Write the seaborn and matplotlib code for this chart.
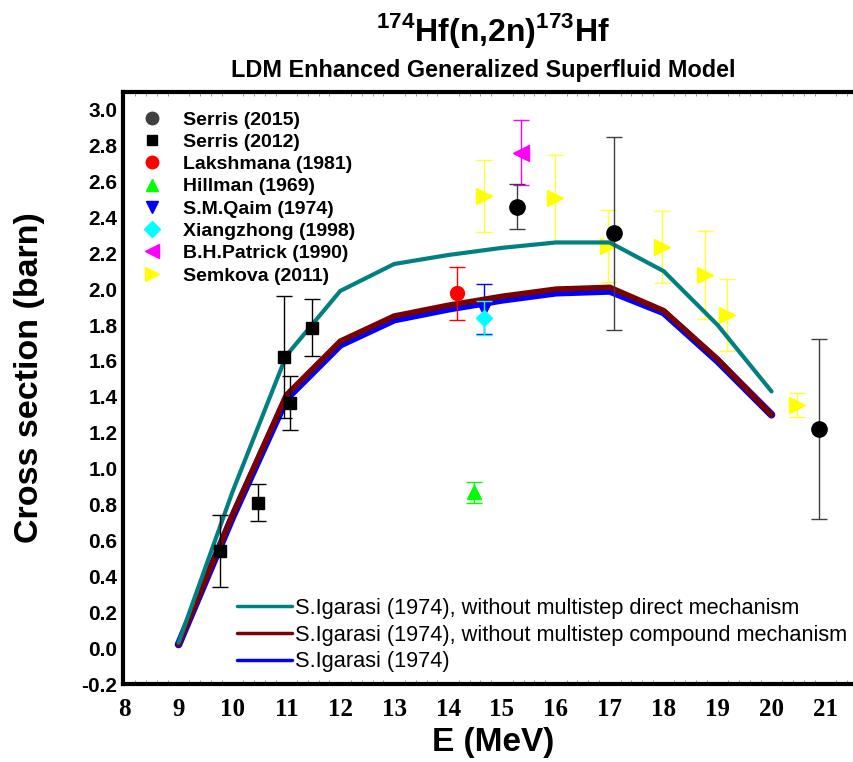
import matplotlib
matplotlib.use("Agg")
import matplotlib.pyplot as plt
from matplotlib.lines import Line2D
from matplotlib.ticker import MultipleLocator
import pandas as pd
import seaborn as sns

# ---- model curves: 174Hf(n,2n)173Hf cross section (barn) ----
model_energy = [9, 10, 11, 12, 13, 14, 15, 16, 17, 18, 19, 20]
sigma_no_msd = [0.03, 0.87, 1.63, 1.99, 2.14, 2.19, 2.23, 2.26, 2.26, 2.10, 1.80, 1.43]
sigma_no_msc = [0.02, 0.74, 1.41, 1.71, 1.85, 1.91, 1.96, 2.00, 2.01, 1.88, 1.61, 1.30]
sigma_full = [0.02, 0.73, 1.39, 1.69, 1.83, 1.89, 1.94, 1.98, 1.99, 1.87, 1.60, 1.30]

# ---- experimental data (E in MeV, sigma and uncertainty in barn) ----
serris2015_e = [15.27, 17.07, 20.88]
serris2015_s = [2.46, 2.31, 1.22]
serris2015_d = [0.127, 0.54, 0.50]

serris2012_e = [9.77, 10.47, 10.96, 11.07, 11.47]
serris2012_s = [0.543, 0.81, 1.624, 1.365, 1.786]
serris2012_d = [0.20, 0.103, 0.34, 0.15, 0.16]

lakshmana_e = [14.17]
lakshmana_s = [1.977]
lakshmana_d = [0.147]

hillman_e = [14.48]
hillman_s = [0.868]
hillman_d = [0.06]

qaim_e = [14.67]
qaim_s = [1.89]
qaim_d = [0.14]

xiangzhong_e = [14.67]
xiangzhong_s = [1.84]
xiangzhong_d = [0.095]

patrick_e = [15.35]
patrick_s = [2.76]
patrick_d = [0.18]

semkova_e = [14.67, 15.98, 16.97, 17.97, 18.77, 19.17, 20.47]
semkova_s = [2.52, 2.505, 2.24, 2.236, 2.077, 1.854, 1.354]
semkova_d = [0.20, 0.245, 0.20, 0.20, 0.245, 0.20, 0.068]

x_ticks = list(range(8, 22))
y_ticks = [round(-0.2 + 0.2 * i, 1) for i in range(17)]

sns.set_theme(style="white")
plt.rcParams["font.family"] = ["Liberation Sans", "DejaVu Sans"]
plt.rcParams["mathtext.fontset"] = "custom"
plt.rcParams["mathtext.rm"] = "Liberation Sans:bold"
plt.rcParams["mathtext.bf"] = "Liberation Sans:bold"
for key in ("text.color", "axes.labelcolor", "xtick.color", "ytick.color"):
    plt.rcParams[key] = "black"

W, H = 854, 762
fig = plt.figure(figsize=(W / 100, H / 100), dpi=100)
ax = fig.add_axes([123 / W, 1 - 684 / H, 1 - 123 / W, (684 - 91.7) / H])

# model curves
curves = pd.DataFrame({
    "E": model_energy * 3,
    "sigma": sigma_full + sigma_no_msc + sigma_no_msd,
    "model": (["S.Igarasi (1974)"] * len(model_energy)
              + ["S.Igarasi (1974), without multistep compound mechanism"] * len(model_energy)
              + ["S.Igarasi (1974), without multistep direct mechanism"] * len(model_energy)),
})
curve_style = {
    "S.Igarasi (1974)": ("#0000ff", 5.5, 3),
    "S.Igarasi (1974), without multistep compound mechanism": ("#7b0000", 4.0, 3.1),
    "S.Igarasi (1974), without multistep direct mechanism": ("#008080", 3.0, 3.2),
}
for name, sub in curves.groupby("model", sort=False):
    col, lw, z = curve_style[name]
    sns.lineplot(data=sub, x="E", y="sigma", ax=ax, color=col, lw=lw,
                 legend=False, zorder=z, solid_joinstyle="miter")


def points(e, s, d, marker, color, ms, ecolor, z=2.5):
    ax.errorbar(e, s, yerr=d, fmt=marker, color=color, ms=ms, mec=color,
                ecolor=ecolor, elinewidth=1.0, capsize=6, capthick=1.0, zorder=z)


points(semkova_e, semkova_s, semkova_d, ">", "#ffff00", 12, "#ffff33", z=2.5)
points(serris2012_e, serris2012_s, serris2012_d, "s", "black", 9, "black", z=3.5)
points(lakshmana_e, lakshmana_s, lakshmana_d, "o", "#ff0000", 10, "#ff0000", z=3.5)
points(hillman_e, hillman_s, hillman_d, "^", "#00ff00", 10, "#00ff00", z=3.5)
points(qaim_e, qaim_s, qaim_d, "v", "#0000ff", 10, "#0000ff", z=2.6)
points(xiangzhong_e, xiangzhong_s, xiangzhong_d, "D", "#00ffff", 8, "#00ffff", z=3.5)
points(patrick_e, patrick_s, patrick_d, "<", "#ff00ff", 12, "#ff00ff", z=3.5)
points(serris2015_e, serris2015_s, serris2015_d, "o", "black", 11, "#404040", z=4)

ax.set_xlim(7.97, 21.53)
ax.set_ylim(-0.2, 3.10)
ax.set_xticks(x_ticks)
ax.set_yticks(y_ticks)
ax.set_yticklabels([f"{v:.1f}" for v in y_ticks], fontsize=15, fontweight="bold")
ax.set_xticklabels([str(v) for v in x_ticks], fontsize=18, fontweight="bold",
                   family="Liberation Serif")
ax.xaxis.set_minor_locator(MultipleLocator(0.2))
ax.tick_params(axis="both", which="major", length=0, pad=4, labelcolor="black")
ax.tick_params(axis="x", which="minor", length=3, width=0.6, color="#888888",
               direction="in", top=True, bottom=True)
ax.tick_params(axis="x", which="major", pad=10)

for side in ("left", "bottom", "top"):
    ax.spines[side].set_linewidth(3)
    ax.spines[side].set_color("black")
ax.spines["right"].set_visible(False)

ax.set_xlabel("")
ax.set_ylabel("")
fig.text(493 / W, 1 - 743 / H, "E (MeV)", ha="center", va="center",
         fontsize=24, fontweight="bold", color="black")
fig.text(30 / W, 1 - 378 / H, "Cross section (barn)", ha="center", va="center",
         rotation=90, fontsize=24.5, fontweight="bold", color="black")

fig.text(493 / W, 1 - 31 / H, r"$^{174}$Hf(n,2n)$^{173}$Hf", ha="center", va="center",
         fontsize=23, fontweight="bold", color="black")
fig.text(483 / W, 1 - 71 / H, "LDM Enhanced Generalized Superfluid Model",
         ha="center", va="center", fontsize=16.8, fontweight="bold", color="black")

# legend for experimental data
exp_handles = [
    Line2D([], [], ls="none", marker="o", color="#404040", ms=9),
    Line2D([], [], ls="none", marker="s", color="black", ms=7),
    Line2D([], [], ls="none", marker="o", color="#ff0000", ms=9),
    Line2D([], [], ls="none", marker="^", color="#00ff00", ms=9),
    Line2D([], [], ls="none", marker="v", color="#0000ff", ms=9),
    Line2D([], [], ls="none", marker="D", color="#00ffff", ms=8),
    Line2D([], [], ls="none", marker="<", color="#ff00ff", ms=10),
    Line2D([], [], ls="none", marker=">", color="#ffff00", ms=10),
]
exp_labels = ["Serris (2015)", "Serris (2012)", "Lakshmana (1981)", "Hillman (1969)",
              "S.M.Qaim (1974)", "Xiangzhong (1998)", "B.H.Patrick (1990)", "Semkova (2011)"]
leg1 = ax.legend(exp_handles, exp_labels, loc="upper left",
                 bbox_to_anchor=(140 / W, 1 - 111 / H), bbox_transform=fig.transFigure,
                 frameon=False, prop={"weight": "bold", "size": 14},
                 handlelength=1.2, handletextpad=1.0, labelspacing=0.24, borderpad=0,
                 borderaxespad=0, labelcolor="black")
ax.add_artist(leg1)

model_handles = [
    Line2D([], [], color="#008080", lw=2.5),
    Line2D([], [], color="#7b0000", lw=2.5),
    Line2D([], [], color="#0000ff", lw=2.5),
]
model_labels = ["S.Igarasi (1974), without multistep direct mechanism",
                "S.Igarasi (1974), without multistep compound mechanism",
                "S.Igarasi (1974)"]
ax.legend(model_handles, model_labels, loc="upper left",
          bbox_to_anchor=(237 / W, 1 - 598 / H), bbox_transform=fig.transFigure,
          frameon=False, prop={"size": 15.7}, handlelength=2.5, handletextpad=0.15,
          labelspacing=0.26, borderpad=0, borderaxespad=0, labelcolor="black")

fig.savefig("out.png", dpi=100)
